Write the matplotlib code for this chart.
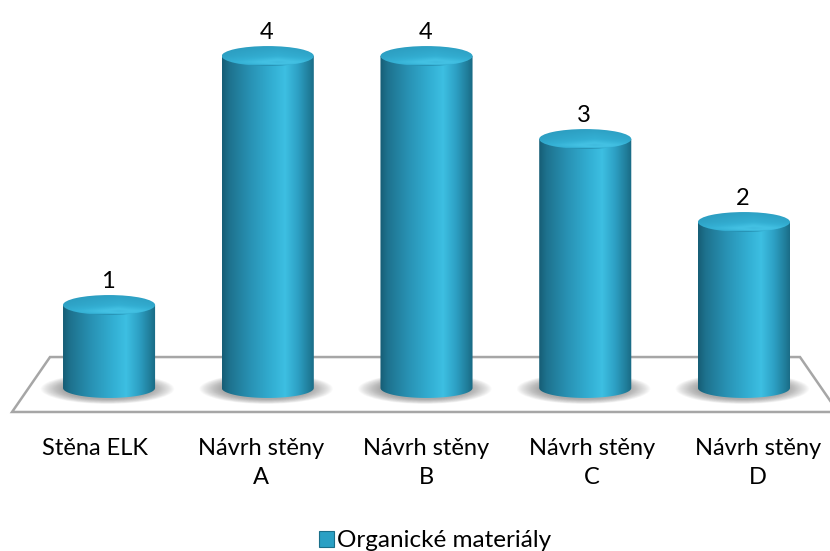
import numpy as np
import matplotlib
matplotlib.use("Agg")
import matplotlib.pyplot as plt
from matplotlib.path import Path
from matplotlib.patches import PathPatch, Polygon, Ellipse, Patch
from matplotlib.colors import LinearSegmentedColormap

plt.rcParams['font.family'] = ['Lato', 'DejaVu Sans']

# --- data ---------------------------------------------------------------
categories = ["Stěna ELK", "Návrh stěny\nA", "Návrh stěny\nB", "Návrh stěny\nC", "Návrh stěny\nD"]
values = [1, 4, 4, 3, 2]
series_name = "Organické materiály"

# --- styling ------------------------------------------------------------
HALF_W = 0.29          # cylinder radius in category units
HALF_H = 0.12          # ellipse half-height in value units
LABEL_SPREAD = 1.044   # perspective spread of the category labels on the front edge
FONT_SIZE = 17

body_cmap = LinearSegmentedColormap.from_list("body", [
    (0.00, "#165d75"), (0.08, "#1e728e"), (0.30, "#2891b3"),
    (0.55, "#33b0d4"), (0.68, "#3dbfe2"), (0.82, "#2da0c4"),
    (0.94, "#207d9a"), (1.00, "#196983")])
top_cmap = LinearSegmentedColormap.from_list("top", [
    (0.00, "#1f7f9d"), (0.15, "#2a98bb"), (0.55, "#34b0d4"),
    (0.75, "#44c2e4"), (0.90, "#3db6da"), (1.00, "#1d7d9b")])

fig = plt.figure(figsize=(8.3, 5.51), dpi=100)
ax = fig.add_axes([0, 0, 1, 1])
ax.set_xlim(-0.687, 4.542)
ax.set_ylim(-1.964, 4.675)
ax.axis("off")

# floor of the 3-D plot area
floor = Polygon([(-0.372, 0.373), (4.353, 0.373), (4.592, -0.289), (-0.611, -0.289)],
                closed=True, facecolor="white", edgecolor="#a6a6a6", lw=1.8, zorder=1)
ax.add_patch(floor)

t_low = np.linspace(np.pi, 2 * np.pi, 80)
xs = np.arange(len(values))

for xc, v in zip(xs, values):
    # soft shadow on the floor
    n = 22
    for k in range(n):
        f = 1.45 - k * 0.022
        ax.add_patch(Ellipse((xc - 0.01, -0.01), 2 * HALF_W * f, 2 * HALF_H * 1.05 * f,
                             facecolor="#555555", edgecolor="none", alpha=0.028, zorder=2))

    # cylinder body: side walls + lower half of the base ellipse
    verts = [(xc - HALF_W, v)]
    verts += list(zip(xc + HALF_W * np.cos(t_low), HALF_H * np.sin(t_low)))
    verts += [(xc + HALF_W, v), (xc - HALF_W, v)]
    codes = [Path.MOVETO] + [Path.LINETO] * (len(verts) - 2) + [Path.CLOSEPOLY]
    body = PathPatch(Path(verts, codes), facecolor="none", edgecolor="none", zorder=3)
    ax.add_patch(body)
    grad = np.linspace(0, 1, 256)[None, :]
    im = ax.imshow(grad, cmap=body_cmap, extent=[xc - HALF_W, xc + HALF_W, -HALF_H, v],
                   aspect="auto", origin="lower", zorder=3, interpolation="bilinear")
    im.set_clip_path(body)

    # top cap
    cap = Ellipse((xc, v), 2 * HALF_W, 2 * HALF_H, facecolor="none", edgecolor="none", zorder=4)
    ax.add_patch(cap)
    gx = np.linspace(0, 1, 128)
    gy = np.linspace(0, 1, 64)
    GX, GY = np.meshgrid(gx, gy)
    # vertical: bright rim towards the front, darker towards the back
    vert = np.interp(GY, [0.0, 0.08, 0.2, 0.5, 1.0], [0.0, 0.75, 0.85, 0.55, 0.3])
    horiz = 1 - 0.35 * np.abs(GX - 0.6) * 2
    val = np.clip(vert * horiz, 0, 1)
    imc = ax.imshow(val, cmap=top_cmap, extent=[xc - HALF_W, xc + HALF_W, v - HALF_H, v + HALF_H],
                    aspect="auto", origin="lower", zorder=4, vmin=0, vmax=1, interpolation="bilinear")
    imc.set_clip_path(cap)

    # value label
    ax.annotate(f"{v}", (xc, v + HALF_H), xytext=(-1, 2), textcoords="offset points",
                ha="center", va="bottom", fontsize=FONT_SIZE, zorder=5)

# category labels along the front edge of the floor
for i, lab in enumerate(categories):
    lx = 2 + (i - 2) * LABEL_SPREAD
    ax.text(lx, -0.6, lab, ha="center", va="top", fontsize=FONT_SIZE, linespacing=1.5)

# legend
handle = Patch(facecolor="#2aa0c4", edgecolor="#1a6f8a", lw=0.8)
fig.legend([handle], [series_name], loc="lower center", bbox_to_anchor=(0.524, -0.018),
           frameon=False, fontsize=17.5, handlelength=0.62, handleheight=0.62,
           handletextpad=0.1, borderaxespad=0)

fig.savefig("out.png", dpi=100)
